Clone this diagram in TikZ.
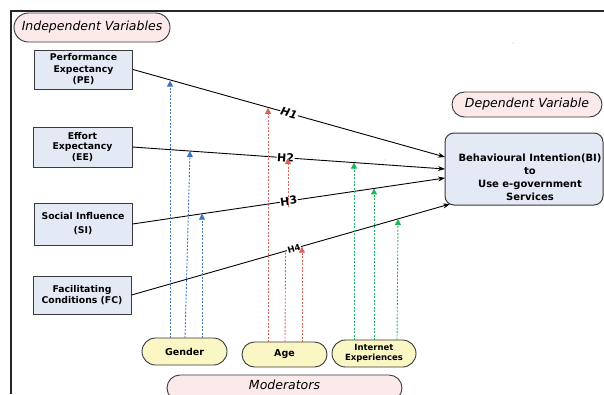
\documentclass[tikz,border=0pt]{standalone}
\usepackage{fontspec}
\setmainfont{DejaVu Sans}
\usetikzlibrary{arrows.meta,calc}
\definecolor{pinkf}{HTML}{FCE9E9}
\definecolor{yellowf}{HTML}{FAF7C4}
\definecolor{boxfill}{HTML}{E4EAF5}
\definecolor{boxline}{HTML}{3A3A3A}
\definecolor{modblue}{HTML}{3F74C4}
\definecolor{modred}{HTML}{D9645A}
\definecolor{modgreen}{HTML}{1FB55B}
\begin{document}
\begin{tikzpicture}[x=1pt,y=-1pt,
  box/.style={draw=boxline,line width=1pt,fill=boxfill,align=center,inner sep=0pt,
    font=\fontsize{9.3}{11.5}\selectfont\bfseries},
  pill/.style={draw=boxline,line width=0.9pt,rounded corners=#1,inner sep=0pt,align=center},
  tag/.style={pill=#1,fill=pinkf,font=\fontsize{12.5}{14}\selectfont\itshape},
  modnode/.style={pill=#1,fill=yellowf,font=\fontsize{9.5}{10}\selectfont\bfseries},
  mainarrow/.style={draw=black,line width=0.9pt,-{Stealth[length=7pt,width=5pt]}},
  modarrow/.style={dash pattern=on 2pt off 1.5pt,line width=0.9pt,-{Triangle[length=6pt,width=6pt]}},
  modline/.style={dash pattern=on 2pt off 1.5pt,line width=0.9pt},
  hlabel/.style={sloped,fill=white,inner sep=0.6pt,font=\fontsize{11}{11}\selectfont\bfseries}
]
\useasboundingbox (0,0) rectangle (604,394);
\clip (0,0) rectangle (604,394);

% frame
\draw[line width=1.8pt,black!85] (10,11) -- (604,11);
\draw[line width=1.8pt,black!85] (11,10) -- (11,394);

% tags
\node[tag=14.5pt,minimum width=156pt,minimum height=29pt] (IV) at (92,27.5) {Independent Variables};
\node[tag=12.5pt,minimum width=150pt,minimum height=25pt] (DV) at (527,104.5) {Dependent Variable};
\node[tag=13pt,minimum width=235pt,minimum height=26pt] (MOD) at (284.5,388) {};
\node[inner sep=0pt,font=\fontsize{12.5}{14}\selectfont\itshape] (MODt) at (284.5,385) {Moderators};

% independent variable boxes
\node[box,minimum width=98pt,minimum height=39pt] (PE) at (83.5,69.5) {Performance\\Expectancy\\(PE)};
\node[box,minimum width=99pt,minimum height=40pt,font=\fontsize{9.3}{10.5}\selectfont\bfseries] (EE) at (82.5,147) {Effort\\Expectancy\\(EE)};
\node[box,minimum width=98pt,minimum height=42pt,font=\fontsize{9.3}{14}\selectfont\bfseries] (SI) at (83,224) {Social Influence\\(SI)};
\node[box,minimum width=98pt,minimum height=38pt,font=\fontsize{9.3}{11}\selectfont\bfseries] (FC) at (82,295) {Facilitating\\Conditions (FC)};

% dependent box
\node[draw=boxline,line width=1pt,fill=boxfill,rounded corners=9pt,minimum width=158pt,minimum height=72pt,inner sep=0pt] (BI) at (524,169) {};
\node[align=center,inner sep=0pt,font=\fontsize{10}{13}\selectfont\bfseries] (BIt) at (530,177) {Behavioural Intention(BI)\\to\\Use e-government\\Services};

% moderators
\node[modnode=13.5pt,minimum width=85pt,minimum height=27pt] (G) at (184.5,351.5) {Gender};
\node[modnode=12.5pt,minimum width=85pt,minimum height=25pt] (A) at (284.5,354.5) {Age};
\node[modnode=13.5pt,minimum width=84pt,minimum height=27pt,font=\fontsize{8.5}{10}\selectfont\bfseries] (IE) at (374,353.5) {Internet\\Experiences};

% end points on BI
\coordinate (b1) at (445,157);
\coordinate (b2) at (445,169);
\coordinate (b3) at (445,178);
\coordinate (b4) at (450,204);

% main connectors
\draw[mainarrow] (PE.east) -- node[hlabel,pos=0.5]{\itshape H1} (b1);
\draw[mainarrow] (EE.east) -- node[hlabel,pos=0.49]{H2} (b2);
\draw[mainarrow] (SI.east) -- node[hlabel,pos=0.5]{H3} (b3);
\draw[mainarrow] (FC.east) -- node[hlabel,pos=0.51,font=\fontsize{8.5}{8.5}\selectfont\bfseries]{H4} (b4);

% moderator start / end coordinates
\coordinate (g1s) at (170,338); \coordinate (g1e) at (170,80.6);
\coordinate (g2s) at (185,338); \coordinate (g2e) at (190,151.1);
\coordinate (g3s) at (202,338); \coordinate (g3e) at (202,213.7);
\coordinate (a1s) at (268,342); \coordinate (a1e) at (268,107.8);
\coordinate (a2s) at (285,342); \coordinate (a2m) at (285.5,252);
\coordinate (a2u) at (288,207); \coordinate (a2e) at (288,158);
\coordinate (a3s) at (302,342); \coordinate (a3e) at (302,246.7);
\coordinate (i1s) at (354,340); \coordinate (i1e) at (354,162.6);
\coordinate (i2s) at (374,340); \coordinate (i2e) at (374,188.4);
\coordinate (i3s) at (397,340); \coordinate (i3e) at (398,219.0);

\draw[modarrow,modblue] (g1s) -- (g1e);
\draw[modarrow,modblue] (g2s) -- (g2e);
\draw[modarrow,modblue] (g3s) -- (g3e);
\draw[modarrow,modred] (a1s) -- (a1e);
\draw[modline,modred] (a2s) -- (a2m);
\draw[modarrow,modred] (a2u) -- (a2e);
\draw[modarrow,modred] (a3s) -- (a3e);
\draw[modarrow,modgreen] (i1s) -- (i1e);
\draw[modarrow,modgreen] (i2s) -- (i2e);
\draw[modarrow,modgreen] (i3s) -- (i3e);

% tiny specks
\fill[black!50] (513,43) circle (0.5pt);
\fill[black!50] (385,160) circle (0.5pt);
\end{tikzpicture}
\end{document}
